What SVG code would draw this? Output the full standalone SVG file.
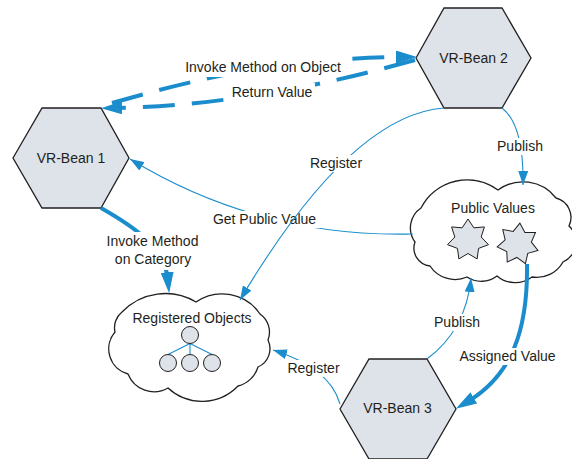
<svg xmlns="http://www.w3.org/2000/svg" width="572" height="459" viewBox="0 0 572 459">
<style>
text{font-family:"Liberation Sans",Arial,sans-serif;font-size:14px;fill:#231f20;text-anchor:middle}
.hex{fill:#dde3e9;stroke:#231f20;stroke-width:1.3}
.cloud{fill:#fff;stroke:#231f20;stroke-width:1.3}
.shape{fill:#dde3e9;stroke:#231f20;stroke-width:1}
.thin{fill:none;stroke:#1b8dcc;stroke-width:1.1}
.thick{fill:none;stroke:#1b8dcc;stroke-width:4}
.dash{fill:none;stroke:#1b8dcc;stroke-width:4;stroke-dasharray:32 17}
.bg{fill:#fff}
</style>
<defs>
<marker id="ah" markerUnits="userSpaceOnUse" viewBox="0 0 14 10" refX="14" refY="5" markerWidth="14" markerHeight="10" orient="auto">
<path d="M0,0 L14,5 L0,10 Z" fill="#1b8dcc"/>
</marker>
<marker id="ahb" markerUnits="userSpaceOnUse" viewBox="0 0 21 13" refX="7" refY="6.5" markerWidth="21" markerHeight="13" orient="auto">
<path d="M0,0 L21,6.5 L0,13 Z" fill="#1b8dcc"/>
</marker>
<polygon id="star" class="shape" points="0,-21 5.86,-12.16 16.42,-13.09 13.16,-3 20.47,4.67 10.55,8.42 9.11,18.92 0,13.5 -9.11,18.92 -10.55,8.42 -20.47,4.67 -13.16,-3 -16.42,-13.09 -5.86,-12.16"/>
</defs>

<g id="bean1">
<polygon class="hex" points="13,158 42,108 101,108 129,158 101,208 42,208"/>
<text x="71" y="163">VR-Bean 1</text>
</g>
<g id="bean2">
<polygon class="hex" points="416,58 444,8 502,8 531,58 502,108 444,108"/>
<text x="473.5" y="63">VR-Bean 2</text>
</g>
<g id="bean3">
<polygon class="hex" points="340,409 369,359 427,359 456,409 427,459 369,459"/>
<text x="397.5" y="413">VR-Bean 3</text>
</g>
<g id="public-values">
<path class="cloud" d="M415,242 A24,24 0 0 1 421,208 A52,52 0 0 1 498,190 A42,42 0 0 1 556,198 A20,20 0 0 1 569,226 A22,22 0 0 1 563,262 A30,30 0 0 1 532,277 A28,28 0 0 1 497,276 A26,26 0 0 1 467,277 A30,30 0 0 1 430,266 A18,18 0 0 1 415,242 Z"/>
<text x="493" y="213">Public Values</text>
<use href="#star" transform="translate(468,240)"/>
<use href="#star" transform="translate(518,244) rotate(5)"/>
</g>
<g id="registered-objects">
<path class="cloud" d="M115,332 A20,20 0 0 1 122,312 A60,60 0 0 1 196,302 A46,46 0 0 1 260,314 A22,22 0 0 1 268,340 A20,20 0 0 1 258,367 A28,28 0 0 1 238,386 A50,50 0 0 1 168,388 A28,28 0 0 1 128,374 A26,26 0 0 1 115,332 Z"/>
<text x="192" y="323">Registered Objects</text>
<path class="thin" d="M190,343.5 L168,354.5 M190,343.5 L190,354.5 M190,343.5 L212,354.5"/>
<circle class="shape" cx="190" cy="335" r="8.5"/>
<circle class="shape" cx="168" cy="363" r="8.5"/>
<circle class="shape" cx="190" cy="363" r="8.5"/>
<circle class="shape" cx="212" cy="363" r="8.5"/>
</g>

<g id="connectors">
<path class="dash" d="M112,103 C160,90 260,58 403,57" marker-end="url(#ahb)"/>
<rect class="bg" x="181" y="56" width="166" height="21"/>
<text x="263" y="72">Invoke Method on Object</text>
<path class="dash" d="M415,60 C360,75 250,105 115,108" marker-end="url(#ahb)"/>
<rect class="bg" x="229" y="83" width="86" height="17"/>
<text x="272" y="97">Return Value</text>

<path class="thin" d="M413,234 C330,236 230,220 130,159" marker-end="url(#ah)"/>
<rect class="bg" x="210" y="211" width="110" height="17"/>
<text x="264.5" y="224">Get Public Value</text>

<path class="thin" d="M444,108 Q350,115 240,300" marker-end="url(#ah)"/>
<rect class="bg" x="307" y="155" width="58" height="17"/>
<text x="336" y="168">Register</text>

<path class="thin" d="M502,108 Q524,125 523,185" marker-end="url(#ah)"/>
<rect class="bg" x="495" y="138" width="50" height="17"/>
<text x="520" y="151">Publish</text>

<path class="thick" d="M101,208 C140,230 165,250 167.8,279.2" marker-end="url(#ahb)"/>
<rect class="bg" x="104" y="232" width="98" height="38"/>
<text x="152.5" y="246">Invoke Method</text>
<text x="153" y="264">on Category</text>

<path class="thin" d="M340,404 Q330,368 273,350" marker-end="url(#ah)"/>
<rect class="bg" x="285" y="360" width="58" height="17"/>
<text x="313.5" y="373">Register</text>

<path class="thin" d="M427,359 Q466,330 471,278" marker-end="url(#ah)"/>
<rect class="bg" x="432" y="314" width="50" height="17"/>
<text x="457" y="327">Publish</text>

<path class="thick" d="M527,264 C528,330 512,375 467.8,401.5" marker-end="url(#ahb)"/>
<rect class="bg" x="456" y="348" width="104" height="17"/>
<text x="507.5" y="361">Assigned Value</text>
</g>
</svg>
